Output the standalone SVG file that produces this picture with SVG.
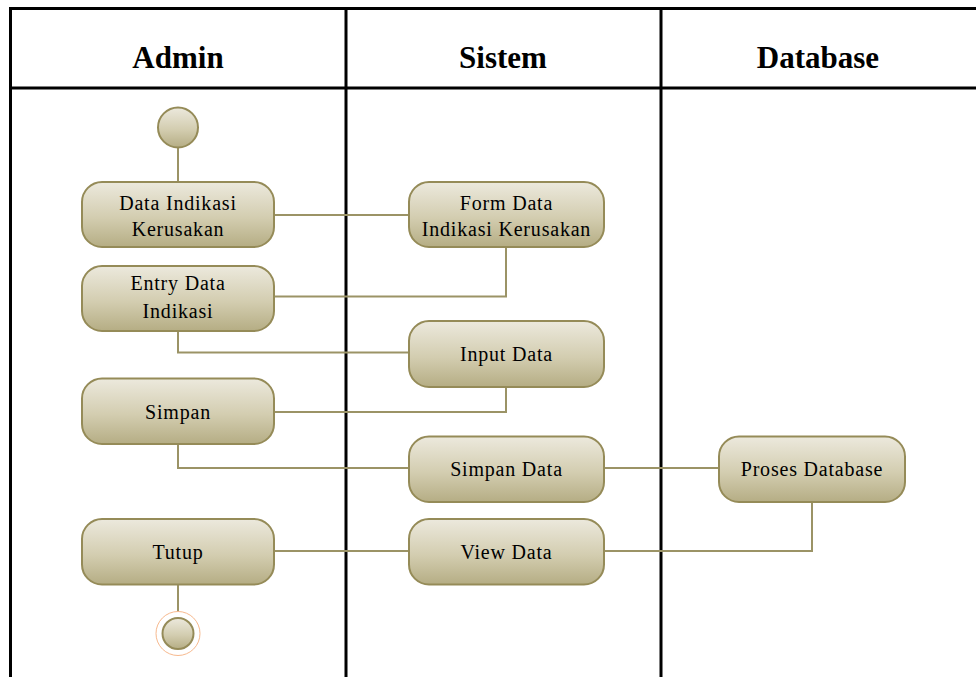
<svg xmlns="http://www.w3.org/2000/svg" width="976" height="677" viewBox="0 0 976 677">
  <defs>
    <linearGradient id="nodeFill" x1="0" y1="0" x2="0" y2="1">
      <stop offset="0" stop-color="#ece9dd"/>
      <stop offset="0.55" stop-color="#d3cdb0"/>
      <stop offset="1" stop-color="#b5ad84"/>
    </linearGradient>
  </defs>
  <style>
    .lane { stroke: #000; stroke-width: 3; fill: none; }
    .head { font-family: "Liberation Serif", serif; font-size: 31px; font-weight: bold; fill: #000; text-anchor: middle; }
    .act { fill: url(#nodeFill); stroke: #958b58; stroke-width: 2; }
    .lbl { font-family: "Liberation Serif", serif; font-size: 20px; fill: #000; text-anchor: middle; letter-spacing: 0.8px; }
    .flow { stroke: #9b9366; stroke-width: 2; fill: none; }
  </style>

  <rect width="976" height="677" fill="#fff"/>

  <!-- swimlane frame -->
  <g id="lanes">
    <line class="lane" x1="9" y1="8.5" x2="976" y2="8.5"/>
    <line class="lane" x1="9" y1="88" x2="976" y2="88"/>
    <line class="lane" x1="10.5" y1="8" x2="10.5" y2="677"/>
    <line class="lane" x1="346" y1="8" x2="346" y2="677"/>
    <line class="lane" x1="661" y1="8" x2="661" y2="677"/>
    <text class="head" x="178" y="68">Admin</text>
    <text class="head" x="503" y="68">Sistem</text>
    <text class="head" x="818" y="68">Database</text>
  </g>

  <!-- control flow -->
  <g id="connectors">
    <path class="flow" d="M178 147.5 V182"/>
    <path class="flow" d="M274 215 H409"/>
    <path class="flow" d="M506 247 V296.5 H274"/>
    <path class="flow" d="M178 331 V352.5 H409"/>
    <path class="flow" d="M506 387 V412 H274"/>
    <path class="flow" d="M178 444 V468 H409"/>
    <path class="flow" d="M604 468 H719"/>
    <path class="flow" d="M812 502 V551 H604"/>
    <path class="flow" d="M409 551 H274"/>
    <path class="flow" d="M178 585 V618"/>
  </g>

  <g id="start">
    <circle class="act" cx="178" cy="127.5" r="20"/>
  </g>

  <g id="data-indikasi-kerusakan">
    <rect class="act" x="82" y="182" width="192" height="65" rx="20"/>
    <text class="lbl" x="178" y="209.5">Data Indikasi</text>
    <text class="lbl" x="178" y="236">Kerusakan</text>
  </g>

  <g id="form-data-indikasi-kerusakan">
    <rect class="act" x="409" y="182" width="195" height="65" rx="20"/>
    <text class="lbl" x="506.5" y="209.5">Form Data</text>
    <text class="lbl" x="506.5" y="236">Indikasi Kerusakan</text>
  </g>

  <g id="entry-data-indikasi">
    <rect class="act" x="82" y="266" width="192" height="65" rx="20"/>
    <text class="lbl" x="178" y="290">Entry Data</text>
    <text class="lbl" x="178" y="317.5">Indikasi</text>
  </g>

  <g id="input-data">
    <rect class="act" x="409" y="321" width="195" height="66" rx="20"/>
    <text class="lbl" x="506.5" y="361">Input Data</text>
  </g>

  <g id="simpan">
    <rect class="act" x="82" y="378.5" width="192" height="65.5" rx="20"/>
    <text class="lbl" x="178" y="419">Simpan</text>
  </g>

  <g id="simpan-data">
    <rect class="act" x="409" y="436.5" width="195" height="65.5" rx="20"/>
    <text class="lbl" x="506.5" y="476">Simpan Data</text>
  </g>

  <g id="proses-database">
    <rect class="act" x="719" y="436.5" width="186" height="65.5" rx="20"/>
    <text class="lbl" x="812" y="476">Proses Database</text>
  </g>

  <g id="tutup">
    <rect class="act" x="82" y="519" width="192" height="65.5" rx="20"/>
    <text class="lbl" x="178" y="558.5">Tutup</text>
  </g>

  <g id="view-data">
    <rect class="act" x="409" y="519" width="195" height="65.5" rx="20"/>
    <text class="lbl" x="506.5" y="558.5">View Data</text>
  </g>

  <g id="end">
    <circle cx="178" cy="633.5" r="22" fill="#fff" stroke="#f7b98e" stroke-width="1"/>
    <circle class="act" cx="178" cy="633.5" r="15.5" stroke-width="2.6"/>
  </g>
</svg>
